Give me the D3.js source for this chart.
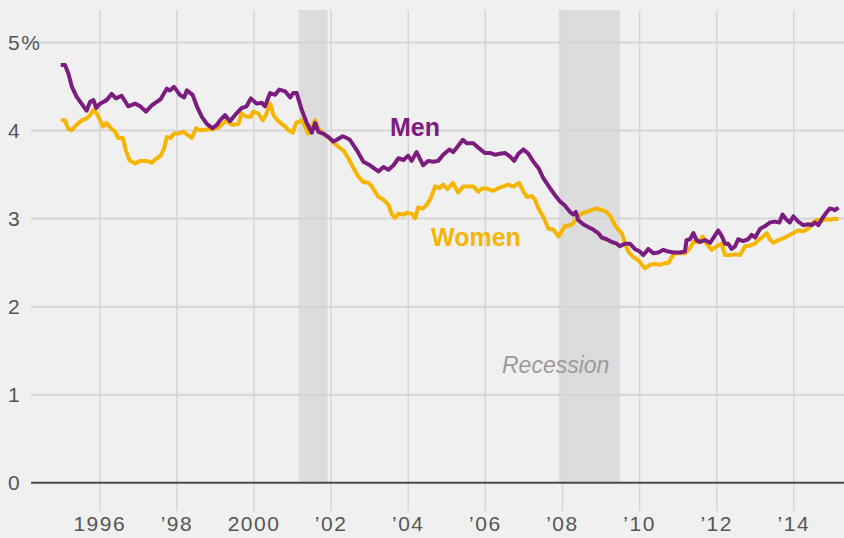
<!DOCTYPE html>
<html>
<head>
<meta charset="utf-8">
<script src="https://cdn.jsdelivr.net/npm/d3@7"></script>
<style>
    body { margin: 0; background: #f0f0f0; }
    svg { display: block; font-family: 'Liberation Sans Narrow', 'DejaVu Sans Condensed', 'Roboto', sans-serif; }
    .tick-label { fill: #555; font-size: 21px; letter-spacing: 1.5px; }
</style>
</head>
<body>
<div class="chart-container"></div>
<script>
// Data - rates in percent (decimal years)
const menYears = [1995.00, 1995.11, 1995.20, 1995.29, 1995.41, 1995.54, 1995.67, 1995.76, 1995.85, 1995.92,
    1996.02, 1996.19, 1996.32, 1996.43, 1996.58, 1996.75, 1996.93, 1997.06, 1997.21, 1997.36,
    1997.49, 1997.59, 1997.75, 1997.83, 1997.94, 1998.09, 1998.20, 1998.27, 1998.42, 1998.53,
    1998.66, 1998.79, 1998.94, 1999.05, 1999.13, 1999.26, 1999.39, 1999.56, 1999.69, 1999.82,
    1999.93, 2000.08, 2000.21, 2000.30, 2000.43, 2000.56, 2000.67, 2000.82, 2000.95, 2001.03,
    2001.12, 2001.25, 2001.38, 2001.51, 2001.60, 2001.68, 2001.81, 2001.94, 2002.07, 2002.16,
    2002.31, 2002.42, 2002.50, 2002.68, 2002.85, 2003.02, 2003.11, 2003.24, 2003.37, 2003.50,
    2003.63, 2003.76, 2003.89, 2004.01, 2004.10, 2004.23, 2004.40, 2004.53, 2004.66, 2004.79,
    2004.92, 2005.08, 2005.18, 2005.29, 2005.43, 2005.53, 2005.70, 2005.83, 2006.00, 2006.13,
    2006.26, 2006.39, 2006.52, 2006.65, 2006.76, 2006.87, 2007.00, 2007.13, 2007.26, 2007.39,
    2007.52, 2007.69, 2007.82, 2007.95, 2008.08, 2008.21, 2008.29, 2008.36, 2008.42, 2008.55,
    2008.68, 2008.81, 2008.94, 2009.03, 2009.16, 2009.29, 2009.42, 2009.50, 2009.63, 2009.76,
    2009.89, 2010.02, 2010.11, 2010.24, 2010.37, 2010.50, 2010.63, 2010.76, 2010.89, 2011.06,
    2011.19, 2011.23, 2011.32, 2011.41, 2011.49, 2011.58, 2011.71, 2011.84, 2011.92, 2012.05,
    2012.14, 2012.23, 2012.31, 2012.40, 2012.49, 2012.57, 2012.70, 2012.83, 2012.92, 2013.01,
    2013.14, 2013.27, 2013.39, 2013.52, 2013.64, 2013.72, 2013.83, 2013.91, 2014.00, 2014.13,
    2014.26, 2014.39, 2014.48, 2014.56, 2014.65, 2014.74, 2014.87, 2014.95, 2015.04, 2015.08,
    2015.17];
const menRates = [4.74, 4.74, 4.64, 4.49, 4.38, 4.30, 4.22, 4.32, 4.34, 4.25,
    4.30, 4.34, 4.41, 4.36, 4.39, 4.27, 4.30, 4.27, 4.21, 4.28,
    4.32, 4.35, 4.47, 4.45, 4.49, 4.40, 4.37, 4.45, 4.40, 4.27,
    4.15, 4.07, 4.02, 4.06, 4.11, 4.17, 4.10, 4.19, 4.25, 4.27,
    4.36, 4.30, 4.31, 4.27, 4.42, 4.40, 4.46, 4.44, 4.37, 4.42,
    4.42, 4.23, 4.08, 3.97, 4.08, 3.98, 3.96, 3.92, 3.87, 3.89,
    3.93, 3.91, 3.89, 3.77, 3.64, 3.60, 3.57, 3.53, 3.58, 3.55,
    3.60, 3.68, 3.66, 3.71, 3.65, 3.75, 3.60, 3.65, 3.64, 3.65,
    3.72, 3.78, 3.75, 3.81, 3.89, 3.85, 3.85, 3.80, 3.74, 3.74,
    3.72, 3.73, 3.74, 3.70, 3.65, 3.73, 3.78, 3.73, 3.64, 3.57,
    3.45, 3.34, 3.26, 3.19, 3.14, 3.07, 3.04, 3.07, 2.98, 2.93,
    2.90, 2.87, 2.83, 2.78, 2.76, 2.73, 2.71, 2.68, 2.71, 2.71,
    2.65, 2.62, 2.58, 2.65, 2.60, 2.61, 2.64, 2.62, 2.61, 2.61,
    2.62, 2.75, 2.76, 2.83, 2.75, 2.73, 2.75, 2.72, 2.77, 2.86,
    2.80, 2.71, 2.71, 2.65, 2.68, 2.76, 2.74, 2.76, 2.81, 2.78,
    2.88, 2.91, 2.95, 2.96, 2.95, 3.04, 2.98, 2.95, 3.02, 2.96,
    2.92, 2.93, 2.92, 2.95, 2.92, 2.99, 3.07, 3.11, 3.10, 3.09,
    3.12];

const womenYears = [1995.00, 1995.11, 1995.20, 1995.29, 1995.41, 1995.54, 1995.67, 1995.76, 1995.85, 1995.93,
    1996.00, 1996.10, 1996.19, 1996.30, 1996.41, 1996.49, 1996.61, 1996.69, 1996.78, 1996.93,
    1997.06, 1997.23, 1997.36, 1997.49, 1997.59, 1997.68, 1997.75, 1997.85, 1997.94, 1998.05,
    1998.18, 1998.31, 1998.40, 1998.51, 1998.59, 1998.70, 1998.83, 1998.96, 1999.09, 1999.20,
    1999.30, 1999.39, 1999.48, 1999.61, 1999.69, 1999.82, 1999.93, 1999.99, 2000.12, 2000.24,
    2000.32, 2000.43, 2000.52, 2000.62, 2000.73, 2000.82, 2000.90, 2001.02, 2001.10, 2001.25,
    2001.34, 2001.42, 2001.51, 2001.60, 2001.68, 2001.81, 2001.94, 2002.07, 2002.23, 2002.33,
    2002.46, 2002.59, 2002.72, 2002.85, 2002.98, 2003.07, 2003.15, 2003.24, 2003.37, 2003.50,
    2003.58, 2003.67, 2003.76, 2003.89, 2003.99, 2004.10, 2004.19, 2004.27, 2004.40, 2004.49,
    2004.60, 2004.71, 2004.82, 2004.92, 2005.03, 2005.17, 2005.31, 2005.44, 2005.57, 2005.70,
    2005.83, 2005.94, 2006.09, 2006.22, 2006.35, 2006.48, 2006.61, 2006.74, 2006.89, 2007.00,
    2007.09, 2007.22, 2007.30, 2007.39, 2007.52, 2007.65, 2007.78, 2007.91, 2007.99, 2008.08,
    2008.21, 2008.29, 2008.38, 2008.51, 2008.64, 2008.77, 2008.90, 2009.03, 2009.16, 2009.26,
    2009.37, 2009.46, 2009.55, 2009.63, 2009.72, 2009.85, 2009.98, 2010.15, 2010.28, 2010.41,
    2010.54, 2010.67, 2010.76, 2010.85, 2010.93, 2011.06, 2011.19, 2011.32, 2011.41, 2011.54,
    2011.65, 2011.75, 2011.88, 2012.01, 2012.14, 2012.23, 2012.36, 2012.49, 2012.62, 2012.75,
    2012.88, 2013.01, 2013.09, 2013.22, 2013.31, 2013.39, 2013.48, 2013.61, 2013.74, 2013.87,
    2014.00, 2014.13, 2014.26, 2014.39, 2014.48, 2014.61, 2014.74, 2014.86, 2014.95, 2015.04,
    2015.17];
const womenRates = [4.11, 4.11, 4.01, 4.00, 4.06, 4.11, 4.13, 4.17, 4.23, 4.19,
    4.13, 4.04, 4.08, 4.02, 3.98, 3.91, 3.91, 3.77, 3.66, 3.62,
    3.65, 3.65, 3.63, 3.68, 3.71, 3.79, 3.92, 3.91, 3.96, 3.96,
    3.98, 3.94, 3.91, 4.02, 4.00, 4.00, 4.01, 4.01, 4.03, 4.07,
    4.11, 4.07, 4.06, 4.07, 4.19, 4.15, 4.15, 4.21, 4.19, 4.11,
    4.17, 4.30, 4.17, 4.11, 4.07, 4.04, 4.00, 3.97, 4.08, 4.11,
    4.04, 3.96, 4.04, 4.11, 4.02, 3.96, 3.92, 3.86, 3.80, 3.77,
    3.68, 3.57, 3.47, 3.41, 3.40, 3.36, 3.30, 3.24, 3.21, 3.15,
    3.05, 3.00, 3.05, 3.04, 3.06, 3.05, 3.00, 3.12, 3.11, 3.15,
    3.23, 3.36, 3.34, 3.38, 3.33, 3.40, 3.29, 3.36, 3.36, 3.36,
    3.30, 3.34, 3.33, 3.31, 3.34, 3.36, 3.38, 3.36, 3.40, 3.30,
    3.24, 3.25, 3.21, 3.11, 3.01, 2.88, 2.87, 2.79, 2.85, 2.91,
    2.92, 2.94, 3.00, 3.05, 3.07, 3.09, 3.11, 3.09, 3.07, 3.02,
    2.92, 2.87, 2.83, 2.72, 2.62, 2.56, 2.52, 2.43, 2.47, 2.48,
    2.47, 2.49, 2.49, 2.56, 2.60, 2.60, 2.60, 2.66, 2.73, 2.73,
    2.79, 2.71, 2.64, 2.68, 2.71, 2.58, 2.58, 2.59, 2.58, 2.68,
    2.69, 2.71, 2.75, 2.79, 2.83, 2.76, 2.72, 2.75, 2.77, 2.80,
    2.83, 2.86, 2.85, 2.88, 2.94, 2.98, 2.97, 2.99, 2.98, 2.99,
    2.99];

// Recession periods (start, end)
const recessions = [[2001.17, 2001.92], [2007.92, 2009.5]];

// Ticks
const xTickYears = [1996, 1998, 2000, 2002, 2004, 2006, 2008, 2010, 2012, 2014];
const xTickLabels = ['1996', '\u201998', '2000', '\u201902', '\u201904', '\u201906', '\u201908', '\u201910', '\u201912', '\u201914'];
const yTickValues = [0, 1, 2, 3, 4, 5];
const yTickLabels = ['0', '1', '2', '3', '4', '5%'];

function ready() {
    const men = menYears.map((d, i) => ({ year: d, rate: menRates[i] }));
    const women = womenYears.map((d, i) => ({ year: d, rate: womenRates[i] }));
    setupCanvas(men, women);
}

function setupCanvas(men, women) {
    const svg_width = 844;
    const svg_height = 538;

    const svg = d3.select('.chart-container').append('svg')
        .attr('width', svg_width).attr('height', svg_height);

    svg.append('rect').attr('width', svg_width).attr('height', svg_height).attr('fill', '#f0f0f0');

    //scale
    const xScale = d3.scaleLinear().domain([1996, 2014]).range([99.3, 793.3]);
    const yScale = d3.scaleLinear().domain([0, 5]).range([482.3, 42]);

    //recession bands
    svg.selectAll('.recession').data(recessions).enter()
        .append('rect')
        .attr('class', 'recession')
        .attr('x', d => xScale(d[0]))
        .attr('width', d => xScale(d[1]) - xScale(d[0]))
        .attr('y', 10)
        .attr('height', yScale(0) - 10)
        .attr('fill', '#dcdcdc');

    //vertical grid + labels
    const xAxis = d3.axisBottom(xScale).tickValues(xTickYears)
        .tickFormat((d, i) => xTickLabels[i])
        .tickSizeInner(-(511 - 10)).tickSizeOuter(0).tickPadding(0);
    const xAxisDraw = svg.append('g').attr('class', 'x axis')
        .attr('transform', 'translate(0,511)')
        .call(xAxis);
    xAxisDraw.select('.domain').remove();
    xAxisDraw.selectAll('line').attr('stroke', '#d5d5d5').attr('stroke-width', 1.5);
    xAxisDraw.selectAll('text').attr('class', 'tick-label').attr('dy', 0).attr('y', 20)
        .attr('font-size', null).attr('font-family', null);

    //horizontal grid + labels
    const yAxis = d3.axisLeft(yScale).tickValues(yTickValues)
        .tickFormat((d, i) => yTickLabels[i])
        .tickSizeInner(-(svg_width - 31)).tickSizeOuter(0);
    const yAxisDraw = svg.append('g').attr('class', 'y axis')
        .attr('transform', 'translate(31,0)')
        .call(yAxis);
    yAxisDraw.select('.domain').remove();
    yAxisDraw.selectAll('line')
        .attr('stroke', d => d === 0 ? '#4a4a4a' : '#d5d5d5')
        .attr('stroke-width', 2);
    yAxisDraw.selectAll('text').attr('class', 'tick-label')
        .attr('x', -23).attr('dy', '0.35em')
        .attr('text-anchor', 'start')
        .attr('font-size', null).attr('font-family', null);
    // move zero line on top of the bands
    yAxisDraw.raise();

    //lines
    const line = d3.line().x(d => xScale(d.year)).y(d => yScale(d.rate));
    svg.append('path').datum(women)
        .attr('fill', 'none').attr('stroke', '#f6b500').attr('stroke-width', 4)
        .attr('stroke-linejoin', 'round').attr('d', line);
    svg.append('path').datum(men)
        .attr('fill', 'none').attr('stroke', '#7b1c7f').attr('stroke-width', 4)
        .attr('stroke-linejoin', 'round').attr('d', line);

    //labels
    svg.append('text').text('Men')
        .attr('x', 390).attr('y', 136)
        .style('font-family', 'Liberation Sans, Arial, sans-serif')
        .style('font-weight', 'bold').style('font-size', '25px').style('fill', '#7b1c7f');
    svg.append('text').text('Women')
        .attr('x', 431).attr('y', 246)
        .style('font-family', 'Liberation Sans, Arial, sans-serif')
        .style('font-weight', 'bold').style('font-size', '25px').style('fill', '#f6b500');
    svg.append('text').text('Recession')
        .attr('x', 502).attr('y', 373)
        .style('font-family', 'Liberation Sans, Arial, sans-serif')
        .style('font-style', 'italic').style('font-size', '23px').style('fill', '#9b9b9b');
}

ready();
</script>
</body>
</html>
